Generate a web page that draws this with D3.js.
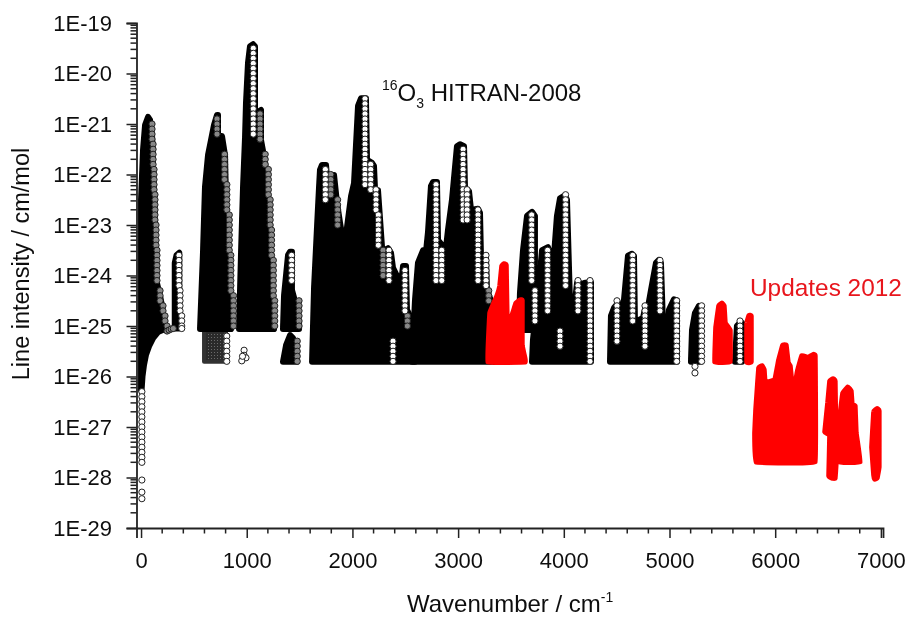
<!DOCTYPE html>
<html>
<head>
<meta charset="utf-8">
<title>O3 line intensities</title>
<script src="https://d3js.org/d3.v7.min.js"></script>
<style>
  html, body { margin: 0; background: #fff; }
  svg { display: block; }
  text { font-family: "Liberation Sans", Arial, sans-serif; fill: #111; }
</style>
</head>
<body>
<svg width="905" height="618"></svg>
<script>
// all values: [wavenumber cm-1, log10 intensity]
var xTicks = [0, 1000, 2000, 3000, 4000, 5000, 6000, 7000];
var xMinorTicks = [200, 400, 600, 800, 1200, 1400, 1600, 1800, 2200, 2400, 2600, 2800, 3200, 3400, 3600, 3800,
  4200, 4400, 4600, 4800, 5200, 5400, 5600, 5800, 6200, 6400, 6600, 6800];
var yDecades = [-29, -28, -27, -26, -25, -24, -23, -22, -21, -20, -19];
var yMinorSteps = [2, 3, 4, 5, 6, 7, 8, 9];

// outlines of the solid black groups of lines
var blackBands = [
  [[0,-26.27],[0,-22.5],[19,-21.51],[38,-21.02],[66,-20.86],[85,-20.92],[104,-21.22],[114,-21.91],[128,-22.64],[137,-23.44],[151,-24.15],[180,-24.41],[199,-24.6],[227,-25.06],[161,-25.12],[114,-25.24],[76,-25.4],[47,-25.57],[28,-25.77],[14,-25.99],[5,-26.27]],
  [[319,-25.05],[319,-23.75],[335,-23.6],[362,-23.55],[362,-25.05]],
  [[558,-25.06],[586,-23.55],[605,-22.25],[634,-21.61],[662,-21.32],[690,-21.02],[719,-20.82],[728,-20.82],[728,-21.24],[766,-21.24],[795,-21.63],[804,-22.6],[823,-23.59],[851,-25.06]],
  [[927,-25.06],[946,-23.55],[965,-22.25],[984,-21.26],[993,-20.58],[1012,-19.79],[1031,-19.46],[1060,-19.42],[1078,-19.46],[1078,-20.92],[1107,-20.76],[1135,-20.72],[1135,-21.32],[1173,-21.75],[1201,-22.54],[1230,-23.59],[1258,-25.06]],
  [[1343,-25.06],[1353,-24.39],[1391,-23.59],[1410,-23.53],[1428,-23.53],[1428,-24.29],[1466,-24.58],[1495,-24.92],[1495,-25.06]],
  [[1343,-25.71],[1372,-25.38],[1410,-25.18],[1438,-25.24],[1466,-25.48],[1476,-25.71]],
  [[1618,-25.71],[1637,-24.23],[1665,-23.04],[1684,-22.25],[1693,-21.91],[1712,-21.81],[1750,-21.81],[1769,-22.31],[1788,-22.01],[1826,-22.01],[1854,-22.56],[1883,-22.96],[1911,-23.3],[1939,-23.2],[1987,-22.43],[2015,-22.17],[2053,-20.64],[2081,-20.49],[2128,-20.49],[2138,-21.71],[2185,-21.77],[2204,-21.83],[2214,-22.31],[2242,-22.31],[2280,-23.44],[2308,-23.5],[2337,-23.46],[2365,-23.55],[2384,-23.85],[2422,-24.01],[2460,-24.15],[2479,-23.81],[2507,-23.81],[2516,-24.68],[2564,-24.88],[2592,-24.92],[2592,-25.71]],
  [[2564,-25.71],[2592,-24.49],[2620,-23.75],[2668,-23.5],[2696,-23.53],[2715,-23.14],[2743,-22.23],[2762,-22.15],[2800,-22.15],[2810,-23.3],[2857,-23.42],[2885,-23.46],[2904,-23.1],[2942,-22.5],[2989,-21.44],[3018,-21.4],[3056,-21.44],[3065,-22.27],[3103,-22.33],[3122,-22.7],[3188,-22.68],[3207,-22.76],[3216,-23.59],[3264,-23.65],[3273,-24.29],[3311,-24.5],[3349,-24.68],[3349,-25.71]],
  [[3576,-25.08],[3585,-24.35],[3614,-23.5],[3652,-22.82],[3699,-22.74],[3727,-22.82],[3727,-25.08]],
  [[3699,-25.71],[3708,-25.28],[3765,-24.15],[3794,-23.5],[3850,-23.44],[3869,-23.55],[3888,-24.15],[3935,-22.82],[3964,-22.47],[4011,-22.41],[4030,-22.5],[4058,-24.49],[4106,-24.5],[4125,-24.15],[4153,-24.15],[4172,-24.29],[4191,-24.15],[4257,-24.13],[4257,-25.71]],
  [[4437,-25.71],[4446,-24.8],[4475,-24.64],[4512,-24.55],[4531,-24.68],[4569,-24.49],[4607,-23.61],[4645,-23.57],[4664,-23.61],[4673,-24.94],[4711,-24.88],[4749,-24.84],[4768,-24.66],[4787,-24.74],[4825,-24.29],[4872,-23.75],[4900,-23.69],[4919,-23.75],[4938,-24.94],[4976,-25.2],[4995,-24.68],[5042,-24.47],[5071,-24.49],[5071,-25.71]],
  [[5203,-25.71],[5213,-25.08],[5241,-24.74],[5279,-24.6],[5298,-24.64],[5298,-25.71]],
  [[5619,-25.71],[5638,-25],[5667,-24.94],[5686,-24.94],[5686,-25.71]]
];

// the weak lines under the 700 band, speckled in the original
var speckledBands = [
  [[596,-25.06],[804,-25.06],[804,-25.71],[596,-25.71]]
];

// updates 2012
var redBands = [
  [[3283,-25.71],[3302,-24.74],[3368,-24.41],[3396,-24.21],[3415,-23.81],[3434,-23.77],[3453,-23.79],[3462,-24.88],[3510,-24.8],[3548,-24.55],[3585,-24.49],[3604,-24.49],[3604,-25.38],[3623,-25.57],[3633,-25.71]],
  [[5430,-25.71],[5440,-25.02],[5468,-24.6],[5496,-24.55],[5515,-24.6],[5525,-24.94],[5572,-25.08],[5572,-25.71]],
  [[5733,-25.71],[5733,-24.94],[5752,-24.8],[5771,-24.8],[5771,-25.71]],
  [[5808,-27.12],[5818,-26.66],[5827,-26.39],[5846,-25.83],[5875,-25.79],[5894,-25.87],[5903,-26.13],[5998,-26.07],[6035,-25.67],[6073,-25.38],[6102,-25.38],[6121,-25.73],[6140,-25.79],[6168,-26.37],[6215,-25.87],[6253,-25.59],[6310,-25.63],[6357,-25.57],[6376,-25.59],[6376,-27.69],[5818,-27.69]],
  [[6471,-27.1],[6499,-26.52],[6518,-26.09],[6547,-26.05],[6565,-26.09],[6575,-27.69],[6565,-28.01],[6537,-28.01],[6509,-27.97],[6518,-27.16]],
  [[6603,-27.69],[6613,-26.8],[6641,-26.33],[6688,-26.21],[6717,-26.29],[6726,-26.56],[6754,-26.58],[6764,-27.12],[6802,-27.69]],
  [[6915,-27.4],[6934,-26.7],[6963,-26.64],[6981,-26.68],[6981,-27.79],[6963,-28.01],[6943,-28.03],[6934,-27.95]]
];

// individually visible lines on the band edges: [wavenumber, [log10 intensities]]
var greyCombs = [
  [104, [-21.0,-21.1,-21.2,-21.3]],
  [114, [-21.4,-21.5,-21.6,-21.7,-21.8]],
  [123, [-21.9,-22.0,-22.1,-22.2,-22.3]],
  [132, [-22.4,-22.5,-22.6,-22.7,-22.8,-22.9]],
  [142, [-23.0,-23.1,-23.2,-23.3,-23.4]],
  [151, [-23.5,-23.6,-23.7,-23.8,-23.9,-24.0,-24.1]],
  [180, [-24.3,-24.4,-24.5]],
  [208, [-24.6,-24.7]],
  [227, [-24.8,-24.9]],
  [246, [-25.0,-25.1]],
  [265, [-25.08]], [285, [-25.06]], [305, [-25.05]],
  [719, [-20.9,-21.0,-21.1,-21.2]],
  [790, [-21.6,-21.7,-21.8,-21.9,-22.0,-22.1]],
  [812, [-22.2,-22.3,-22.4,-22.5,-22.6,-22.7]],
  [835, [-22.8,-22.9,-23.0,-23.1,-23.2,-23.3,-23.4,-23.5]],
  [850, [-23.6,-23.7,-23.8,-23.9,-24.0,-24.1,-24.2,-24.3]],
  [875, [-24.4,-24.5,-24.6,-24.7,-24.8,-24.9,-25.0]],
  [1126, [-20.8,-20.9,-21.0,-21.1,-21.2,-21.3]],
  [1175, [-21.6,-21.7,-21.8]],
  [1205, [-21.9,-22.0,-22.1,-22.2,-22.3,-22.4]],
  [1222, [-22.5,-22.6,-22.7,-22.8,-22.9,-23.0]],
  [1235, [-23.1,-23.2,-23.3,-23.4,-23.5,-23.6]],
  [1252, [-23.7,-23.8,-23.9,-24.0,-24.1,-24.2,-24.3,-24.4]],
  [1265, [-24.5,-24.6,-24.7,-24.8,-24.9,-25.0]],
  [1495, [-24.5,-24.6,-24.7,-24.8,-24.9,-25.0]],
  [1478, [-25.3,-25.4,-25.5,-25.6,-25.7]],
  [1795, [-22.0,-22.1,-22.2,-22.3,-22.4]],
  [1860, [-22.5,-22.6,-22.7,-22.8,-22.9,-23.0]],
  [2290, [-23.5,-23.6,-23.7,-23.8,-23.9,-24.0]],
  [2520, [-24.8,-24.9,-25.0]],
  [3290, [-24.3,-24.4,-24.5]],
  [3340, [-24.6,-24.7]]
];

var whiteCombs = [
  [8, [-26.3,-26.4,-26.5,-26.6,-26.7,-26.8,-26.9,-27.0,-27.1,-27.2,-27.3,-27.4,-27.5,-27.6,-27.7,-28.05,-28.29,-28.42]],
  [359, [-23.6,-23.7,-23.8,-23.9,-24.0,-24.1,-24.2]],
  [369, [-24.3,-24.4,-24.5,-24.6,-24.7]],
  [385, [-24.8,-24.9,-25.0,-25.05]],
  [811, [-25.2,-25.3,-25.4,-25.5,-25.6,-25.7]],
  [975, [-25.48,-25.58]], [993, [-25.63]], [953, [-25.69]], [960, [-25.6]],
  [1062, [-19.5,-19.6,-19.7,-19.8,-19.9,-20.0,-20.1,-20.2,-20.3,-20.4,-20.5,-20.6,-20.7,-20.8,-20.9,-21.0,-21.1,-21.2]],
  [1425, [-23.6,-23.7,-23.8,-23.9,-24.0,-24.1]],
  [1744, [-21.9,-22.0,-22.1,-22.2,-22.3,-22.4,-22.5]],
  [2119, [-20.5,-20.6,-20.7,-20.8,-20.9,-21.0,-21.1,-21.2,-21.3,-21.4,-21.5,-21.6,-21.7,-21.8,-21.9,-22.0,-22.1,-22.2]],
  [2173, [-21.8,-21.9,-22.0,-22.1,-22.2,-22.3]],
  [2223, [-22.3,-22.4,-22.5,-22.6,-22.7]],
  [2245, [-22.8,-22.9,-23.0,-23.1,-23.2,-23.3,-23.4]],
  [2346, [-23.5,-23.6,-23.7,-23.8,-23.9,-24.0,-24.1]],
  [2384, [-25.3,-25.4,-25.5,-25.6,-25.7]],
  [2497, [-23.9,-24.0,-24.1,-24.2,-24.3,-24.4,-24.5,-24.6,-24.7]],
  [2791, [-22.2,-22.3,-22.4,-22.5,-22.6,-22.7,-22.8,-22.9,-23.0,-23.1,-23.2,-23.3,-23.4,-23.5,-23.6,-23.7,-23.8,-23.9,-24.0,-24.1]],
  [2845, [-23.5,-23.6,-23.7,-23.8,-23.9,-24.0,-24.1]],
  [3047, [-21.5,-21.6,-21.7,-21.8,-21.9,-22.0,-22.1,-22.2,-22.3,-22.4,-22.5,-22.6,-22.7,-22.8,-22.9]],
  [3085, [-22.3,-22.4,-22.5,-22.6,-22.7,-22.8,-22.9]],
  [3188, [-22.7,-22.8,-22.9,-23.0,-23.1,-23.2,-23.3,-23.4,-23.5,-23.6,-23.7,-23.8,-23.9,-24.0,-24.1]],
  [3264, [-23.6,-23.7,-23.8,-23.9,-24.0,-24.1,-24.2]],
  [3696, [-22.8,-22.9,-23.0,-23.1,-23.2,-23.3,-23.4,-23.5,-23.6,-23.7,-23.8,-23.9,-24.0,-24.1]],
  [3727, [-24.3,-24.4,-24.5,-24.6,-24.7,-24.8,-24.9]],
  [3847, [-23.5,-23.6,-23.7,-23.8,-23.9,-24.0,-24.1,-24.2,-24.3,-24.4,-24.5,-24.6,-24.7]],
  [3964, [-25.1,-25.2,-25.3,-25.4]],
  [4017, [-22.4,-22.5,-22.6,-22.7,-22.8,-22.9,-23.0,-23.1,-23.2,-23.3,-23.4,-23.5,-23.6,-23.7,-23.8,-23.9,-24.0,-24.1,-24.2]],
  [4134, [-24.1,-24.2,-24.3,-24.4,-24.5,-24.6,-24.7]],
  [4248, [-24.1,-24.2,-24.3,-24.4,-24.5,-24.6,-24.7,-24.8,-24.9,-25.0,-25.1,-25.2,-25.3,-25.4,-25.5,-25.6,-25.7]],
  [4503, [-24.5,-24.6,-24.7,-24.8,-24.9,-25.0,-25.1,-25.2,-25.3]],
  [4652, [-23.6,-23.7,-23.8,-23.9,-24.0,-24.1,-24.2,-24.3,-24.4,-24.5,-24.6,-24.7,-24.8,-24.9]],
  [4768, [-24.6,-24.7,-24.8,-24.9,-25.0,-25.1,-25.2,-25.3,-25.4]],
  [4910, [-23.7,-23.8,-23.9,-24.0,-24.1,-24.2,-24.3,-24.4,-24.5,-24.6,-24.7]],
  [5068, [-24.5,-24.6,-24.7,-24.8,-24.9,-25.0,-25.1,-25.2,-25.3,-25.4,-25.5,-25.6,-25.7]],
  [5304, [-24.6,-24.7,-24.8,-24.9,-25.0,-25.1,-25.2,-25.3,-25.4,-25.5,-25.6,-25.7]],
  [5241, [-25.8,-25.93]],
  [5667, [-24.9,-25.0,-25.1,-25.2,-25.3,-25.4,-25.5,-25.6,-25.7]]
];

var svg = d3.select('svg');

var x = d3.scaleLinear().domain([-43, 7020]).range([136.5, 883]);
var y = d3.scaleLog().domain([1e-29, 1e-19]).range([528, 23]);

function py(v) { return y(Math.pow(10, v)); }

var outline = d3.line()
  .x(function(d) { return x(d[0]); })
  .y(function(d) { return py(d[1]); })
  .curve(d3.curveLinearClosed);

// the red groups have soft shoulders
var softOutline = d3.line()
  .x(function(d) { return x(d[0]); })
  .y(function(d) { return py(d[1]); })
  .curve(d3.curveCardinalClosed.tension(0.9));

var defs = svg.append('defs');

var pat = defs.append('pattern')
  .attr('id', 'speckle').attr('patternUnits', 'userSpaceOnUse')
  .attr('width', 3).attr('height', 3);
pat.append('rect').attr('width', 3).attr('height', 3).attr('fill', '#2a2a2a');
pat.append('circle').attr('cx', 1.5).attr('cy', 1.5).attr('r', 0.5).attr('fill', '#808080');

// the original is a slightly soft scan
defs.append('filter').attr('id', 'soft')
  .append('feGaussianBlur').attr('stdDeviation', 0.45);

var root = svg.append('g').attr('filter', 'url(#soft)');
root.append('rect').attr('width', 905).attr('height', 618).attr('fill', '#fff');

var plot = root.append('g');

plot.selectAll('path.speckled').data(speckledBands).enter().append('path')
  .attr('class', 'speckled')
  .attr('d', outline)
  .attr('fill', 'url(#speckle)')
  .attr('stroke', '#333').attr('stroke-width', 4).attr('stroke-linejoin', 'round');

plot.selectAll('path.black').data(blackBands).enter().append('path')
  .attr('class', 'black')
  .attr('d', outline)
  .attr('fill', '#000')
  .attr('stroke', '#000').attr('stroke-width', 6).attr('stroke-linejoin', 'round');

function drawCombs(combs, fill) {
  combs.forEach(function(c) {
    plot.append('g').selectAll('circle').data(c[1]).enter().append('circle')
      .attr('cx', x(c[0]))
      .attr('cy', function(d) { return py(d); })
      .attr('r', 3.1)
      .attr('fill', fill)
      .attr('stroke', '#222')
      .attr('stroke-width', 1);
  });
}
drawCombs(greyCombs, '#888');
drawCombs(whiteCombs, '#fff');

plot.selectAll('path.red').data(redBands).enter().append('path')
  .attr('class', 'red')
  .attr('d', softOutline)
  .attr('fill', '#f00')
  .attr('stroke', '#f00').attr('stroke-width', 5.5).attr('stroke-linejoin', 'round');

// axes
var axisColor = '#222';
var xAxis = root.append('g').attr('transform', 'translate(0,528)');
xAxis.call(d3.axisBottom(x).tickValues(xTicks).tickSize(10).tickPadding(14).tickFormat(d3.format('d')));
xAxis.append('g').selectAll('line').data(xMinorTicks).enter().append('line')
  .attr('x1', x).attr('x2', x).attr('y1', 0).attr('y2', 5.5);

var yMinor = [];
yDecades.slice(0, -1).forEach(function(e) {
  yMinorSteps.forEach(function(s) { yMinor.push(s * Math.pow(10, e)); });
});

var yAxis = root.append('g').attr('transform', 'translate(136.5,0)');
yAxis.call(d3.axisLeft(y)
  .tickValues(yDecades.map(function(e) { return Math.pow(10, e); }))
  .tickSize(10).tickPadding(14.5)
  .tickFormat(function(d) { return '1E' + Math.round(Math.log10(d)); }));
yAxis.append('g').selectAll('line').data(yMinor).enter().append('line')
  .attr('y1', y).attr('y2', y).attr('x1', 0).attr('x2', -6);

[xAxis, yAxis].forEach(function(a) {
  a.selectAll('.domain').attr('stroke', axisColor).attr('stroke-width', 1.8);
  a.selectAll('line').attr('stroke', axisColor).attr('stroke-width', 1.5);
  a.selectAll('text').attr('font-size', 22).attr('font-family', '"Liberation Sans", Arial, sans-serif').attr('fill', '#111');
});

// titles
var xTitle = root.append('text').attr('x', 407).attr('y', 612).attr('font-size', 24);
xTitle.append('tspan').text('Wavenumber / cm');
xTitle.append('tspan').text('-1').attr('font-size', 14).attr('dy', -10);

root.append('text')
  .attr('transform', 'translate(29,264) rotate(-90)')
  .attr('text-anchor', 'middle')
  .attr('font-size', 23.5)
  .text('Line intensity / cm/mol');

var note = root.append('text').attr('x', 382).attr('y', 101).attr('font-size', 24);
note.append('tspan').text('16').attr('font-size', 14).attr('dy', -11);
note.append('tspan').text('O').attr('dy', 11);
note.append('tspan').text('3').attr('font-size', 14).attr('dy', 7);
note.append('tspan').text(' HITRAN-2008').attr('dy', -7);

root.append('text').attr('x', 750).attr('y', 296).attr('font-size', 24.4)
  .style('fill', '#e8141c').text('Updates 2012');
</script>
</body>
</html>
